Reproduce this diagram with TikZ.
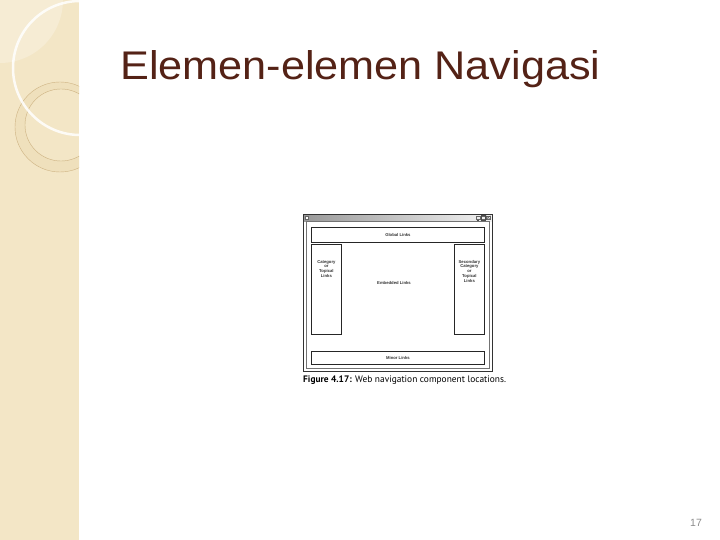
\documentclass[tikz,border=0pt]{standalone}
\usepackage{fontspec}
\setmainfont{Liberation Sans}
\newfontfamily\capfont{PT Sans}
\usetikzlibrary{positioning}
\definecolor{bandbeige}{RGB}{243,230,198}
\definecolor{bandlight}{RGB}{246,236,212}
\definecolor{bandring}{RGB}{239,224,188}
\definecolor{ringbrown}{RGB}{205,178,130}
\definecolor{titlebrown}{RGB}{84,34,22}
\tikzset{linkbox/.style={rectangle,draw=black!85,line width=0.8pt,fill=white,inner sep=0pt}}
\tikzset{tinylbl/.style={font=\fontsize{4.2}{4.7}\selectfont\bfseries,align=center,inner sep=0pt,text=black!80}}
\tikzset{btn/.style={rectangle,draw=black!60,line width=0.3pt,minimum width=4,minimum height=3.5,inner sep=0pt}}

\begin{document}
\begin{tikzpicture}[x=1pt,y=-1pt]
        \useasboundingbox (0,0) rectangle (720,540);
        \fill[white] (0,0) rectangle (720,540);

        % decorated side band
        \fill[bandbeige] (0,0) rectangle (79,540);
        \begin{scope}
            \clip (0,0) rectangle (79,540);
            \fill[bandlight] (0,0) circle (63);
            \fill[bandring,even odd rule] (60,127) circle (45) (61,125) circle (36);
            \draw[ringbrown,line width=0.4pt] (60,127) circle (45);
            \draw[ringbrown,line width=0.4pt] (61,125) circle (36);
            \draw[white,line width=2.5pt,opacity=0.85] (80,68) circle (67);
        \end{scope}

        \node[anchor=base west,inner sep=0,text=titlebrown,font=\fontsize{40}{48}\selectfont] (title) at (120,80) {\scalebox{1.08}[1]{Elemen-elemen Navigasi}};

        % window
        \node[anchor=north west,minimum width=189,minimum height=157,inner sep=0,fill=white] (win) at (303,214) {};
        \node[anchor=north west,minimum width=189,minimum height=7,inner sep=0,left color=gray!80,right color=gray!10] (tbar) at (303,214) {};
        \draw[black!80,line width=0.7pt] (win.north west) rectangle (win.south east);
        \node[anchor=north west,minimum width=183,minimum height=147,inner sep=0,draw=black!55,line width=0.4pt] (frame) at (306,221) {};
        \node[btn,fill=white,minimum width=3,minimum height=3,right=2pt of tbar.west] (icon) {};
        \node[btn,left=2pt of tbar.east] (closebtn) {};
        \node[btn,left=0.8pt of closebtn] (maxbtn) {};
        \node[btn,left=0.8pt of maxbtn] (minbtn) {};
        \draw[black!70,line width=0.3pt] (closebtn.north west) -- (closebtn.south east) (closebtn.north east) -- (closebtn.south west);
        \draw[black!70,line width=0.3pt] ([yshift=0.8pt]maxbtn.north west) rectangle ([yshift=-0.8pt]maxbtn.south east);
        \draw[black!70,line width=0.5pt] ([xshift=0.8pt,yshift=-0.8pt]minbtn.south west) -- ([xshift=-0.8pt,yshift=-0.8pt]minbtn.south east);

        % link areas
        \node[linkbox,anchor=north west,minimum width=173,minimum height=15] (global) at (311,227) {};
        \node[linkbox,anchor=north west,minimum width=30,minimum height=90] (catbox) at (311,244) {};
        \node[linkbox,anchor=north west,minimum width=30,minimum height=90] (secbox) at (454,244) {};
        \node[linkbox,anchor=north west,minimum width=173,minimum height=13] (minor) at (311,351) {};

        \node[tinylbl] (globallbl) at (global) {Global Links};
        \node[tinylbl,anchor=north] (catlbl) at ([yshift=-16pt]catbox.north) {Category\\or\\Topical\\Links};
        \node[tinylbl,anchor=north] (seclbl) at ([yshift=-16pt]secbox.north) {Secondary\\Category\\or\\Topical\\Links};
        \node[tinylbl] (embedlbl) at (394,283) {Embedded Links};
        \node[tinylbl] (minorlbl) at (minor) {Minor Links};

        \node[anchor=west,inner sep=0,font=\capfont\fontsize{9.4}{11}\selectfont] (caption) at (303,380) {\textbf{Figure 4.17:} Web navigation component locations.};

        \node[inner sep=0,text=black!45,font=\fontsize{10.5}{12}\selectfont] (pagenum) at (696,523) {17};
    \end{tikzpicture}
\end{document}
